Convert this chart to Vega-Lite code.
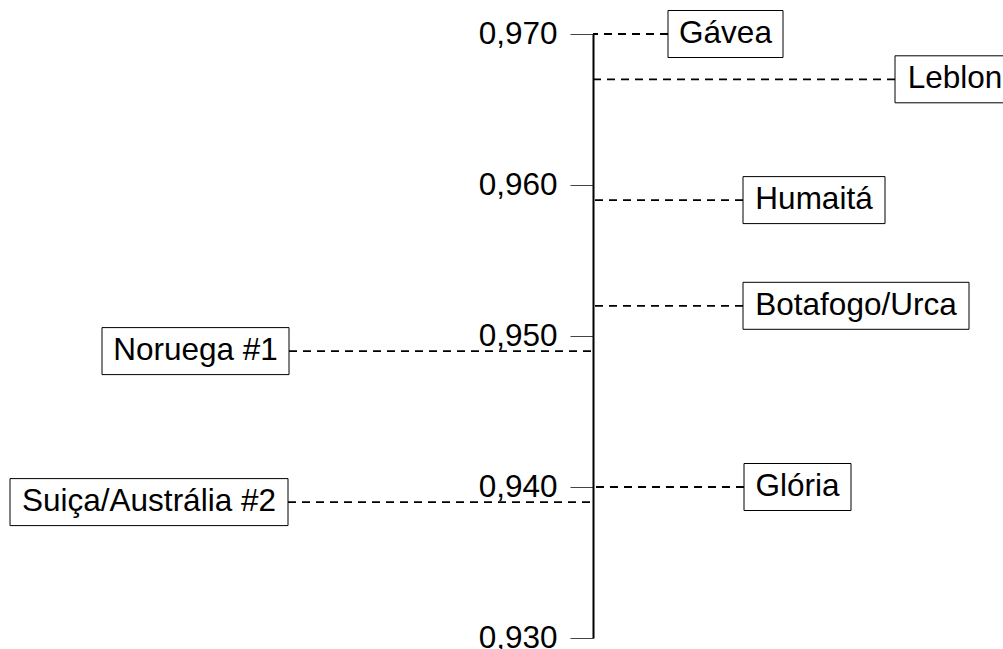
{
  "$schema": "https://vega.github.io/schema/vega-lite/v6.json",
  "width": 1003,
  "height": 604,
  "autosize": {"type": "none"},
  "padding": {"left": 0, "right": 0, "top": 34, "bottom": 11},
  "background": "white",
  "config": {
    "view": {"stroke": null},
    "font": "Liberation Sans"
  },
  "data": {
    "values": [
      {"region": "Gávea", "value": 0.970, "near": 75, "far": 190},
      {"region": "Leblon", "value": 0.967, "near": 302, "far": 422},
      {"region": "Humaitá", "value": 0.959, "near": 150, "far": 292},
      {"region": "Botafogo/Urca", "value": 0.952, "near": 150, "far": 376},
      {"region": "Glória", "value": 0.940, "near": 151, "far": 258},
      {"region": "Noruega #1", "value": 0.949, "near": -304, "far": -491},
      {"region": "Suiça/Austrália #2", "value": 0.939, "near": -305, "far": -583}
    ]
  },
  "transform": [
    {"calculate": "(datum.near + datum.far) / 2", "as": "mid"}
  ],
  "layer": [
    {
      "mark": {"type": "rule", "color": "black", "strokeWidth": 1.8, "strokeDash": [8, 6]},
      "encoding": {
        "x": {"field": "near", "type": "quantitative", "scale": {"domain": [-593, 410], "nice": false, "zero": false, "padding": 0}, "axis": null},
        "x2": {"datum": 0},
        "y": {
          "field": "value", "type": "quantitative",
          "scale": {"domain": [0.93, 0.97], "nice": false, "zero": false, "padding": 0},
          "axis": {
            "offset": -593,
            "values": [0.93, 0.94, 0.95, 0.96, 0.97],
            "labelExpr": "replace(format(datum.value, '.3f'), '.', ',')",
            "grid": false,
            "title": null,
            "domainColor": "black",
            "domainWidth": 2,
            "tickColor": "#444",
            "tickWidth": 1,
            "tickSize": 23,
            "labelPadding": 13,
            "labelFontSize": 31.5,
            "labelColor": "black",
            "labelFont": "Liberation Sans",
            "labelBaseline": "middle",
            "labelFlush": false,
            "labelOverlap": false
          }
        }
      }
    },
    {
      "mark": {"type": "bar", "fill": "white", "stroke": "black", "strokeWidth": 1, "size": 47},
      "encoding": {
        "x": {"field": "near", "type": "quantitative"},
        "x2": {"field": "far"},
        "y": {"field": "value", "type": "quantitative"}
      }
    },
    {
      "mark": {"type": "text", "fontSize": 31.5, "font": "Liberation Sans", "color": "black", "align": "center", "baseline": "middle"},
      "encoding": {
        "x": {"field": "mid", "type": "quantitative"},
        "y": {"field": "value", "type": "quantitative"},
        "text": {"field": "region"}
      }
    }
  ]
}
